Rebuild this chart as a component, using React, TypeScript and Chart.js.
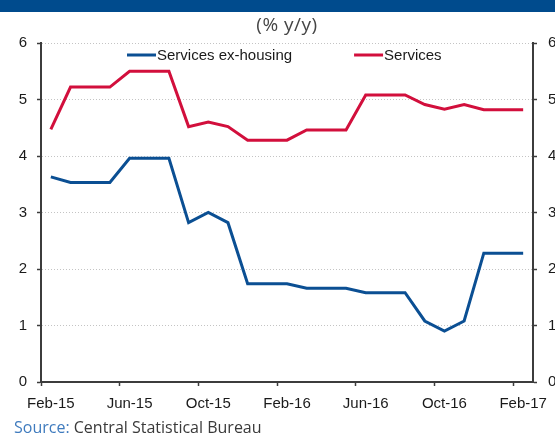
import React, { useEffect, useRef } from "react";
import { Chart, registerables } from "chart.js";

Chart.register(...registerables);

const months = [
  "Feb-15", "Mar-15", "Apr-15", "May-15", "Jun-15", "Jul-15", "Aug-15", "Sep-15",
  "Oct-15", "Nov-15", "Dec-15", "Jan-16", "Feb-16", "Mar-16", "Apr-16", "May-16",
  "Jun-16", "Jul-16", "Aug-16", "Sep-16", "Oct-16", "Nov-16", "Dec-16", "Jan-17", "Feb-17",
];

const servicesExHousing = [
  3.63, 3.53, 3.53, 3.53, 3.96, 3.96, 3.96, 2.82, 3.0, 2.82, 1.74, 1.74, 1.74,
  1.66, 1.66, 1.66, 1.58, 1.58, 1.58, 1.08, 0.9, 1.08, 2.28, 2.28, 2.28,
];

const services = [
  4.47, 5.22, 5.22, 5.22, 5.5, 5.5, 5.5, 4.52, 4.6, 4.52, 4.28, 4.28, 4.28,
  4.46, 4.46, 4.46, 5.08, 5.08, 5.08, 4.91, 4.83, 4.91, 4.82, 4.82, 4.82,
];

const seriesNames = ["Services ex-housing", "Services"];
const yMin = 0;
const yMax = 6;
const labelEvery = 4;

const BLUE = "#0B4F93";
const RED = "#D20F3C";
const AXIS = "#3c3c3c";
const FONT = "'Liberation Sans', Arial, sans-serif";

const inlineLegend = {
  id: "inlineLegend",
  afterDatasetsDraw(chart: any) {
    const { ctx, chartArea } = chart;
    const y = chartArea.top + 12;
    let x = chartArea.left + 86;
    ctx.save();
    ctx.font = `15px ${FONT}`;
    ctx.textBaseline = "middle";
    chart.data.datasets.forEach((ds: any) => {
      ctx.strokeStyle = ds.borderColor;
      ctx.lineWidth = 3;
      ctx.beginPath();
      ctx.moveTo(x, y);
      ctx.lineTo(x + 29, y);
      ctx.stroke();
      x += 30;
      ctx.fillStyle = "#1a1a1a";
      ctx.fillText(ds.label, x, y + 1);
      x += ctx.measureText(ds.label).width + 62;
    });
    ctx.restore();
  },
};

export default function App() {
  const ref = useRef<HTMLCanvasElement | null>(null);

  useEffect(() => {
    if (!ref.current) return;
    const majorColor = (c: any) => (c.index % labelEvery === 0 ? AXIS : "rgba(0,0,0,0)");
    const chart = new Chart(ref.current, {
      type: "line",
      data: {
        labels: months,
        datasets: [
          {
            label: seriesNames[0],
            data: servicesExHousing,
            borderColor: BLUE,
            backgroundColor: BLUE,
            borderWidth: 3,
            pointRadius: 0,
            tension: 0,
            fill: false,
            yAxisID: "y",
          },
          {
            label: seriesNames[1],
            data: services,
            borderColor: RED,
            backgroundColor: RED,
            borderWidth: 3,
            pointRadius: 0,
            tension: 0,
            fill: false,
            yAxisID: "y",
          },
        ],
      },
      options: {
        animation: false,
        responsive: true,
        maintainAspectRatio: false,
        layout: { padding: { top: 43, left: 0, right: 0, bottom: 0 } },
        plugins: {
          legend: { display: false },
          tooltip: { enabled: false },
          title: { display: false },
        },
        scales: {
          x: {
            type: "category",
            offset: true,
            afterFit: (s: any) => {
              s.height = 38;
            },
            grid: {
              offset: true,
              drawOnChartArea: false,
              drawTicks: true,
              tickLength: 4,
              color: majorColor,
              tickColor: majorColor,
              tickWidth: 1.5,
            },
            border: { display: true, color: AXIS, width: 2 },
            ticks: {
              autoSkip: false,
              maxRotation: 0,
              minRotation: 0,
              padding: 9,
              color: "#1a1a1a",
              font: { family: FONT, size: 15 },
              callback: (_v: any, i: number) => (i % labelEvery === 0 ? months[i] : ""),
            },
          },
          y: {
            position: "left",
            min: yMin,
            max: yMax,
            afterFit: (s: any) => {
              s.width = 41;
            },
            grid: {
              color: "#c4c4c4",
              lineWidth: 1,
              drawTicks: true,
              tickLength: 4,
              tickColor: AXIS,
              tickWidth: 1.5,
            },
            border: { display: true, color: AXIS, width: 2, dash: [1, 2] },
            ticks: {
              stepSize: 1,
              padding: 10,
              color: "#1a1a1a",
              font: { family: FONT, size: 15 },
            },
          },
          y1: {
            position: "right",
            min: yMin,
            max: yMax,
            afterFit: (s: any) => {
              s.width = 47;
            },
            grid: {
              drawOnChartArea: false,
              drawTicks: true,
              tickLength: 4,
              tickColor: AXIS,
              tickWidth: 1.5,
            },
            border: { display: true, color: AXIS, width: 2 },
            ticks: {
              stepSize: 1,
              padding: 11,
              color: "#1a1a1a",
              font: { family: FONT, size: 15 },
            },
          },
        },
      },
      plugins: [inlineLegend],
    } as any);
    return () => chart.destroy();
  }, []);

  return (
    <div
      style={{
        position: "fixed",
        left: 0,
        top: 0,
        width: 555,
        height: 434,
        overflow: "hidden",
        background: "#fff",
      }}
    >
      <div
        style={{
          position: "absolute",
          left: 0,
          top: 0,
          width: 555,
          height: 12,
          background: "#004B8D",
        }}
      />
      <div style={{ position: "absolute", left: 0, top: 0, width: 580, height: 420 }}>
        <canvas ref={ref} />
      </div>
      <div
        style={{
          position: "absolute",
          left: 187,
          top: 14,
          width: 200,
          textAlign: "center",
          fontFamily: "'Open Sans', sans-serif",
          fontSize: 19,
          lineHeight: "20px",
          color: "#454545",
          letterSpacing: 0.5,
        }}
      >
        (% y/y)
      </div>
      <div
        style={{
          position: "absolute",
          left: 14,
          top: 418,
          whiteSpace: "nowrap",
          fontFamily: "'Open Sans', sans-serif",
          fontSize: 16,
          lineHeight: "18px",
          color: "#3a3a3a",
        }}
      >
        <span style={{ color: "#3F7BBE" }}>Source:</span> Central Statistical Bureau
      </div>
    </div>
  );
}
